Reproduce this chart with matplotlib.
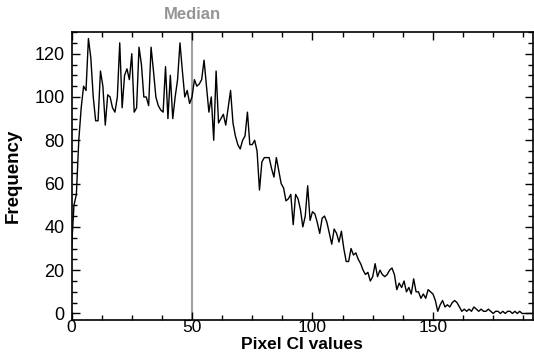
import numpy as np
import matplotlib
matplotlib.use('Agg')
import matplotlib.pyplot as plt
from matplotlib.ticker import MultipleLocator

# histogram of pixel CI values
freq = [30, 50, 55, 80, 95, 105, 103, 127, 118, 100,
        89, 89, 112, 105, 87, 101, 100, 95, 93, 100,
        125, 95, 110, 113, 108, 120, 93, 95, 123, 115,
        100, 100, 96, 123, 112, 100, 96, 94, 93, 114,
        90, 110, 90, 100, 108, 125, 112, 100, 103, 97,
        100, 108, 105, 106, 108, 117, 105, 93, 100, 80,
        112, 88, 90, 92, 87, 95, 103, 88, 82, 78,
        76, 80, 82, 93, 78, 78, 80, 75, 57, 70,
        72, 72, 72, 67, 63, 72, 66, 60, 58, 52,
        53, 55, 41, 55, 53, 48, 40, 45, 59, 43,
        47, 46, 42, 37, 44, 45, 42, 37, 32, 39,
        37, 33, 38, 30, 24, 24, 30, 27, 28, 25,
        23, 20, 18, 19, 15, 17, 23, 17, 20, 18,
        17, 18, 20, 21, 18, 11, 14, 12, 15, 10,
        12, 9, 16, 10, 10, 7, 9, 7, 11, 10,
        9, 6, 1, 4, 6, 3, 4, 3, 5, 6,
        5, 3, 1, 2, 1, 2, 1, 3, 2, 1,
        2, 1, 1, 2, 1, 0, 1, 1, 0, 1,
        0, 1, 1, 0, 1, 0, 1, 0, 0, 0,
        0, 0]
pixel_ci = np.arange(len(freq))
median_val = 50

xticks = [0, 50, 100, 150]
yticks = [0, 20, 40, 60, 80, 100, 120]

plt.rcParams['font.family'] = ['Liberation Sans', 'DejaVu Sans']

fig = plt.figure(figsize=(5.34, 3.52), dpi=100)
ax = fig.add_axes([0.134, 0.091, 0.864, 0.818])

ax.plot(pixel_ci, freq, color='black', lw=1.0)
ax.axvline(median_val, color='#a0a0a0', lw=1.5, zorder=0)
ax.text(median_val, 1.035, 'Median', transform=ax.get_xaxis_transform(),
        ha='center', va='bottom', color='#959595', fontsize=12, fontweight='bold')

ax.set_xlim(0, 191.5)
ax.set_ylim(-3, 130)
ax.set_xticks(xticks)
ax.set_yticks(yticks)
ax.xaxis.set_minor_locator(MultipleLocator(12.5))
ax.yaxis.set_minor_locator(MultipleLocator(5))
ax.tick_params(which='both', direction='in', top=True, right=True, labelsize=13,
               width=1)
ax.tick_params(axis='x', labelsize=12.5)
ax.tick_params(which='major', length=6)
ax.tick_params(which='minor', length=3.5)
ax.tick_params(axis='x', pad=0)
ax.tick_params(axis='y', pad=5)
for s in ax.spines.values():
    s.set_linewidth(1.2)

ax.set_xlabel('Pixel CI values', fontsize=12.5, fontweight='bold', va='bottom')
ax.xaxis.set_label_coords(0.5, -0.111)
ax.set_ylabel('Frequency', fontsize=13.5, fontweight='bold', va='center')
ax.yaxis.set_label_coords(-0.126, 0.5)

plt.savefig('out.png', dpi=100)
